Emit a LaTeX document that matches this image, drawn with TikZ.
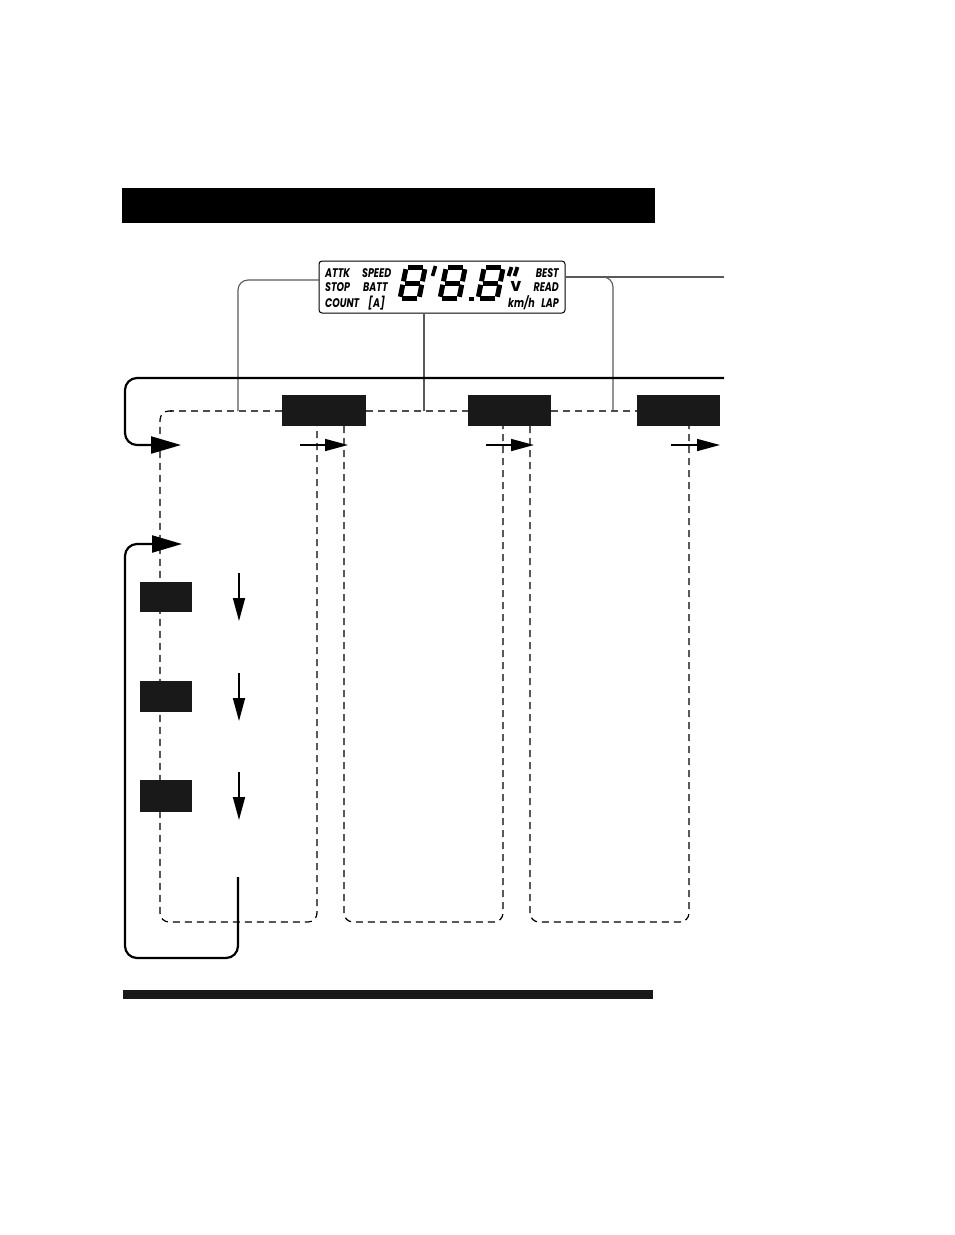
\documentclass[tikz,border=0pt]{standalone}
\usepackage{fontspec}
\setmainfont{Liberation Sans}
\newfontfamily\lcdfont{Poppins}
\usetikzlibrary{arrows.meta}
\newcommand\lcdeight[1]{%
\begin{scope}[shift={#1},xslant=0.2]
 \draw[lcdseg] (4.4,-33.5)--(19.6,-33.5);
 \draw[lcdseg] (4.4,-18)--(19.6,-18);
 \draw[lcdseg] (4.4,-2.5)--(19.6,-2.5);
 \draw[lcdseg] (2.5,-31.8)--(2.5,-19.7);
 \draw[lcdseg] (21.5,-31.8)--(21.5,-19.7);
 \draw[lcdseg] (2.5,-16.3)--(2.5,-4.2);
 \draw[lcdseg] (21.5,-16.3)--(21.5,-4.2);
\end{scope}}
\begin{document}
\begin{tikzpicture}[x=1pt,y=-1pt,
  lcdseg/.style={line width=5,line cap=butt},
  lcdtxt/.style={font=\lcdfont\fontsize{12.5}{12.5}\selectfont\bfseries\itshape,inner sep=0,xscale=0.76},
  thinline/.style={draw=black!65,line width=1.1},
  dashline/.style={draw=black,line width=1.2,dash pattern=on 7pt off 5pt},
  topdash/.style={draw=black!70,line width=1.2,dash pattern=on 7pt off 5pt},
  loopline/.style={draw=black,line width=2.2,rounded corners=12},
  bigarrow/.style={-{Triangle[length=30pt,width=17pt]}},
  smallarrow/.style={line width=1.6,-{Triangle[length=23pt,width=12pt]}},
  blackbox/.style={fill=black!90,draw=none,inner sep=0}
]
\useasboundingbox (0,0) rectangle (954,1235);

% header and footer bars
\node[blackbox,fill=black,minimum width=533,minimum height=35,anchor=north west] (header) at (122,188) {};
\node[blackbox,minimum width=530,minimum height=9,anchor=north west] (footer) at (123,990) {};

% LCD
\node[draw,line width=1,rounded corners=3,minimum width=246,minimum height=52,inner sep=0] (lcd) at (442,287) {};
\node[lcdtxt,anchor=base west] (attk) at (325,277.5) {ATTK};
\node[lcdtxt,anchor=base west] (speed) at (362,277.5) {SPEED};
\node[lcdtxt,anchor=base west] (stop) at (325,291.5) {STOP};
\node[lcdtxt,anchor=base west] (batt) at (363,291.5) {BATT};
\node[lcdtxt,anchor=base west] (count) at (325,307.5) {COUNT};
\node[lcdtxt,anchor=base west] (amp) at (368,307.5) {[A]};
\node[lcdtxt,anchor=base east] (best) at (559,277.5) {BEST};
\node[lcdtxt,anchor=base east] (read) at (559,291.5) {READ};
\node[lcdtxt,anchor=base east] (lap) at (559,307.5) {LAP};
\node[lcdtxt,anchor=base west] (kmh) at (508,307.5) {km/h};
\node[font=\lcdfont\fontsize{18}{18}\selectfont\bfseries,inner sep=0,xscale=0.95] (vee) at (516,286) {v};
\lcdeight{(397,301)}
\lcdeight{(437,301)}
\lcdeight{(475,301)}
\draw[line width=3.6] (432.5,276)--(435.5,266);
\fill (469,296.5) rectangle (474,301);
\draw[line width=3.8] (508.5,276)--(511.5,267);
\draw[line width=3.8] (514.5,276)--(517.5,267);

% LCD leader lines
\coordinate (lcdL) at (319,280);
\coordinate (lcdB) at (424,313);
\coordinate (lcdR) at (565,277);
\coordinate (edgeR) at (724,277);
\coordinate (brR) at (600,277);
\coordinate (tapL) at (238,411);
\coordinate (tapM) at (424,411);
\coordinate (tapR) at (613,411);
\draw[thinline,rounded corners=10] (lcdL) -| (tapL);
\draw[thinline] (lcdB) -- (tapM);
\draw[thinline] (lcdR) -- (edgeR);
\draw[thinline,rounded corners=10] (brR) -| (tapR);

% dashed columns
\draw[topdash] (282,411) -- (170,411);
\draw[dashline,rounded corners=9] (172,411) -- (160,411) -- (160,922) -- (317,922) -- (317,426);
\draw[topdash] (366,411) -- (468,411);
\draw[topdash] (551,411) -- (637,411);
\draw[dashline,rounded corners=9] (344,426) -- (344,922) -- (503,922) -- (503,426);
\draw[dashline,rounded corners=9] (530,426) -- (530,922) -- (689,922) -- (689,426);

% mode boxes
\node[blackbox,minimum width=84,minimum height=31] (m1) at (324,410.5) {};
\node[blackbox,minimum width=83,minimum height=31] (m2) at (509.5,410.5) {};
\node[blackbox,minimum width=83,minimum height=31] (m3) at (678.5,410.5) {};

% side boxes
\node[blackbox,minimum width=52,minimum height=30] (s1) at (166,597) {};
\node[blackbox,minimum width=52,minimum height=31] (s2) at (166,696.5) {};
\node[blackbox,minimum width=52,minimum height=32] (s3) at (166,796) {};

% main loop
\coordinate (loopStart) at (724,378);
\coordinate (loopC1) at (125,378);
\coordinate (loopC2) at (125,445);
\coordinate (loopEnd) at (181,445);
\draw[loopline,bigarrow] (loopStart) -- (loopC1) -- (loopC2) -- (loopEnd);

% small right arrows
\coordinate (a1s) at (300,445); \coordinate (a1e) at (348,445);
\coordinate (a2s) at (486,445); \coordinate (a2e) at (534,445);
\coordinate (a3s) at (671,445); \coordinate (a3e) at (720,445);
\draw[smallarrow] (a1s) -- (a1e);
\draw[smallarrow] (a2s) -- (a2e);
\draw[smallarrow] (a3s) -- (a3e);

% inner loop
\coordinate (iStart) at (238,877);
\coordinate (iC1) at (238,958);
\coordinate (iC2) at (125,958);
\coordinate (iC3) at (125,544);
\coordinate (iEnd) at (182,544);
\draw[loopline,bigarrow] (iStart) -- (iC1) -- (iC2) -- (iC3) -- (iEnd);

% down arrows
\coordinate (d1s) at (239,573); \coordinate (d1e) at (239,621);
\coordinate (d2s) at (239,673); \coordinate (d2e) at (239,721);
\coordinate (d3s) at (239,772); \coordinate (d3e) at (239,820);
\draw[smallarrow] (d1s) -- (d1e);
\draw[smallarrow] (d2s) -- (d2e);
\draw[smallarrow] (d3s) -- (d3e);
\end{tikzpicture}
\end{document}
